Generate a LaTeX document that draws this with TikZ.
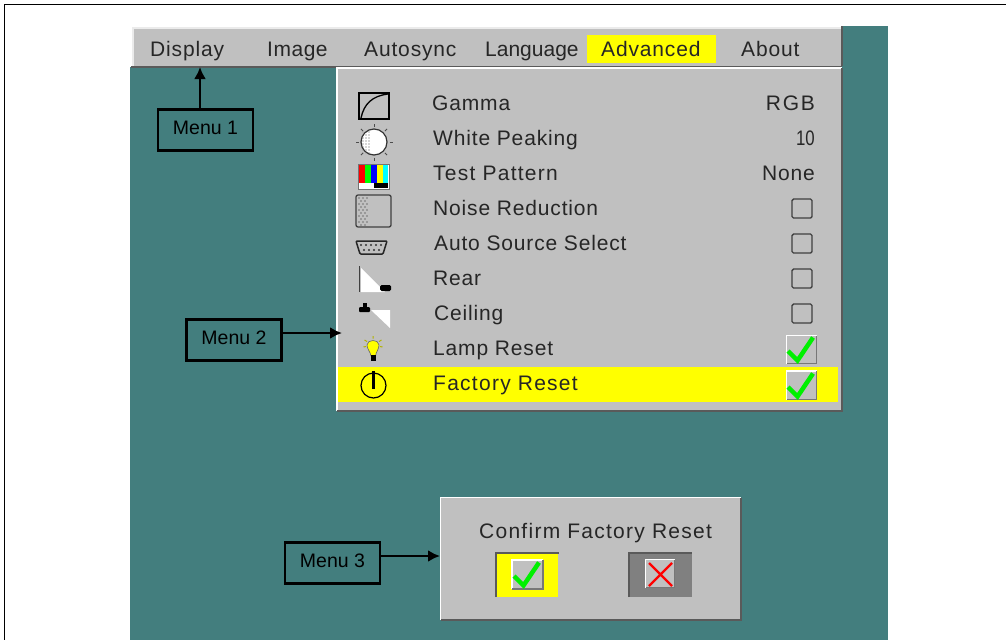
\documentclass[tikz,border=0pt]{standalone}
\usepackage{fontspec}
\usetikzlibrary{arrows.meta}
\newfontfamily\uifont[LetterSpace=4]{Liberation Sans}
\newfontfamily\uiwide[LetterSpace=6]{Liberation Sans}
\newfontfamily\uimid[LetterSpace=2.5]{Liberation Sans}
\newfontfamily\uitight{Liberation Sans}
\newfontfamily\uirgb[LetterSpace=8]{Liberation Sans}
\newfontfamily\labelfont{Liberation Sans}
\definecolor{teal1}{HTML}{437E7E}
\definecolor{panel}{HTML}{C0C0C0}
\definecolor{edge}{HTML}{5A5A5A}
\definecolor{softedge}{HTML}{777777}
\definecolor{uitext}{HTML}{262626}
\definecolor{gbtn}{HTML}{808080}
\definecolor{okgreen}{HTML}{00F000}
\definecolor{pureyellow}{HTML}{FFFF00}
\definecolor{purered}{HTML}{FF0000}
\definecolor{puregreen}{HTML}{00FF00}
\definecolor{pureblue}{HTML}{0000FF}
\definecolor{purecyan}{HTML}{00FFFF}
\tikzset{
  x=1pt,y=-1pt,
  ui/.style={font=\uifont\fontsize{21}{24}\selectfont,text=uitext,inner sep=0pt,anchor=base west},
  uiw/.style={ui,font=\uiwide\fontsize{21}{24}\selectfont},
  uim/.style={ui,font=\uimid\fontsize{21}{24}\selectfont},
  uit/.style={ui,font=\uitight\fontsize{21}{24}\selectfont},
  uir/.style={ui,anchor=base east},
  menubox/.style={draw=black,line width=2.8pt,fill=teal1,minimum width=95pt,minimum height=41pt,inner sep=0pt,text depth=5pt,font=\labelfont\fontsize{19.5}{22}\selectfont,text=black},
  callout/.style={draw=black,line width=2.6pt,-{Latex[length=12pt,width=12pt]}},
  chk/.style={draw=black!75,line width=1.4pt,rounded corners=1.5pt,fill=panel},
  tick/.style={draw=okgreen,line width=4.5pt,line join=miter},
  icon/.style={draw=black,line width=1.3pt}
}
\newcommand{\bevel}[4]{% x0,y0,x1,y1
  \fill[panel] (#1,#2) rectangle (#3,#4);
  \draw[white,line width=1.5pt] (#1,#4) -- (#1,#2) -- (#3,#2);
  \draw[edge,line width=2pt] (#3,#2) -- (#3,#4) -- (#1,#4);
}
\newcommand{\softbevel}[4]{% x0,y0,x1,y1
  \fill[panel] (#1,#2) rectangle (#3,#4);
  \draw[white,line width=1.5pt] (#1,#4) -- (#1,#2) -- (#3,#2);
  \draw[softedge,line width=1.6pt] (#3,#2) -- (#3,#4) -- (#1,#4);
}
\newcommand{\tickat}[2]{\draw[tick] (#1+-14,#2+1) -- (#1+-4.5,#2+10.5) -- (#1+11,#2+-12.5);}
\begin{document}
\begin{tikzpicture}
\useasboundingbox (0,0) rectangle (1006,640);
\fill[white] (0,0) rectangle (1006,640);
% page frame
\draw[black,line width=1.2pt] (1006,4.5) -- (4.5,4.5) -- (4.5,640);
% teal screen
\fill[teal1] (130,67) rectangle (888,640);
\fill[teal1] (842,26) rectangle (888,67);
% menu bar
\fill[panel] (133,28) rectangle (842,66);
\draw[black!8,line width=1.2pt] (133,66) -- (133,28) -- (842,28);
\draw[edge,line width=2pt] (841.5,26) -- (841.5,66);
\draw[edge,line width=2pt] (131,66.5) -- (842,66.5);
\fill[pureyellow] (587,35) rectangle (716,63);
\node[ui] (tDisplay) at (150,56.5) {Display};
\node[uim] (tImage) at (267,56.5) {Image};
\node[ui] (tAutosync) at (364,56.5) {Autosync};
\node[uit] (tLanguage) at (485,56.5) {Language};
\node[ui] (tAdvanced) at (601,56.5) {Advanced};
\node[ui] (tAbout) at (741,56.5) {About};
% main panel
\bevel{337}{68}{842}{411}
\fill[pureyellow] (338,367) rectangle (838,402);
\node[ui] (rGamma) at (432,110) {Gamma};
\node[ui] (rWhite) at (433,145) {White Peaking};
\node[uiw] (rTest) at (433,180) {Test Pattern};
\node[ui] (rNoise) at (433,215) {Noise Reduction};
\node[ui] (rAuto) at (434,250) {Auto Source Select};
\node[ui] (rRear) at (433,285) {Rear};
\node[ui] (rCeil) at (434,320) {Ceiling};
\node[ui] (rLamp) at (433,355) {Lamp Reset};
\node[uiw] (rFact) at (433,390) {Factory Reset};
\node[ui,anchor=base east,font=\uirgb\fontsize{21}{24}\selectfont] (vRGB) at (815,110) {RGB};
\node[ui,anchor=base east,font=\uitight\fontsize{21}{24}\selectfont] (vPeak) at (815,145) {\scalebox{0.8}[1]{10}};
\node[uir] (vNone) at (815,180) {None};
% check boxes
\foreach \yy in {199,234,269,304}{\draw[chk] (792,\yy) rectangle (812,\yy+19);}
\softbevel{786.5}{335.5}{816.5}{363.5}
\tickat{802}{350}
\softbevel{786.5}{371}{816.5}{399.5}
\tickat{802}{386}
% gamma icon
\draw[icon,fill=panel] (359,93) rectangle (389,119);
\draw[black,line width=1.3pt] (361,118) .. controls (364,104) and (372,96) .. (388,94);
% sun icon
\fill[white] (374,142) circle (13);
\foreach \yy in {132,135,...,153}{\foreach \xx in {363,366,369}{\fill[black!32] (\xx,\yy) circle (0.9);}}
\draw[black!80,line width=1.2pt] (374,142) circle (13);
\foreach \a in {0,45,...,315}{\draw[black!70,line width=1pt] (374,142) ++(\a:15.5) -- ++(\a:3);}
% test pattern
\draw[black!55,line width=1pt,fill=white] (358,164) rectangle (389,189);
\fill[purered] (359,165) rectangle (365,183);
\fill[puregreen] (365,165) rectangle (371,183);
\fill[pureblue] (371,165) rectangle (377,183);
\fill[pureyellow] (377,165) rectangle (383,183);
\fill[purecyan] (383,165) rectangle (388,183);
\fill[black] (374,183) rectangle (388,188);
% noise icon
\draw[black!75,line width=1.3pt,rounded corners=2pt,fill=panel] (356,195) rectangle (391,227);
\foreach \yy in {198,204,...,222}{\foreach \xx in {359,363,367}{\fill[black!55] (\xx,\yy) circle (0.9);}}
\foreach \yy in {201,207,...,225}{\foreach \xx in {361,365}{\fill[black!55] (\xx,\yy) circle (0.9);}}
% vga icon
\draw[black!85,line width=1.5pt,rounded corners=1pt,fill=panel] (356,241) -- (387,241) -- (383,254) -- (360,254) -- cycle;
\foreach \xx in {361,366,...,381}{\fill[black!80] (\xx,245) circle (1.2);}
\foreach \xx in {364,369,...,379}{\fill[black!80] (\xx,250) circle (1.2);}
% rear icon
\draw[black!75,line width=1.2pt] (359.5,266) -- (359.5,292);
\fill[white] (361,268) -- (385,292) -- (361,292) -- cycle;
\fill[black,rounded corners=1.5pt] (380,285) rectangle (391,291);
% ceiling icon
\fill[black,rounded corners=1pt] (359,307) rectangle (370,312);
\fill[black] (363,303) rectangle (367,307);
\fill[white] (371,310) -- (390,310) -- (390,328) -- cycle;
% lamp icon
\draw[black!60,line width=.6pt,fill=pureyellow] (367,345) .. controls (367,339) and (379,339) .. (379,345) .. controls (379,349) and (376,352) .. (375.5,356) -- (371,356) .. controls (370.5,352) and (367,349) .. (367,345) -- cycle;
\fill[black] (371,355) rectangle (376,361);
\draw[pureyellow!70!black,line width=1pt] (373,336) -- (373,338.5) (364.5,340) -- (367,341.5) (381.5,340) -- (379,341.5) (363.5,347) -- (366,346.5) (382.5,347) -- (380,346.5);
% power icon
\draw[black,line width=1.2pt] (373.5,385.5) circle (12.5);
\draw[black,line width=2.6pt] (373.5,371) -- (373.5,389);
% dialog
\bevel{440.5}{497.5}{740.5}{620}
\node[uiw] (tConfirm) at (479,538) {Confirm Factory Reset};
\fill[pureyellow] (496,553) rectangle (558,597);
\draw[edge,line width=2pt] (495.5,597) -- (495.5,552.5) -- (559,552.5);
\softbevel{512}{560}{543}{589}
\tickat{528}{575}
\fill[gbtn] (628,552) rectangle (692,597);
\draw[edge,line width=2pt] (628.5,597) -- (628.5,552.5) -- (692,552.5);
\softbevel{645.5}{559.5}{674.5}{587.5}
\draw[purered,line width=2.4pt] (649,563) -- (672,586) (672,563) -- (649,586);
% callouts
\node[menubox] (m1) at (205.5,130) {Menu 1};
\node[menubox] (m2) at (234,340) {Menu 2};
\node[menubox] (m3) at (332.5,563) {Menu 3};
\coordinate (e1) at (200,67);
\coordinate (e2) at (342,333);
\coordinate (e3) at (440,556);
\draw[callout] (e1 |- m1.north) -- (e1);
\draw[callout] (m2.east |- e2) -- (e2);
\draw[callout] (m3.east |- e3) -- (e3);
\end{tikzpicture}
\end{document}
